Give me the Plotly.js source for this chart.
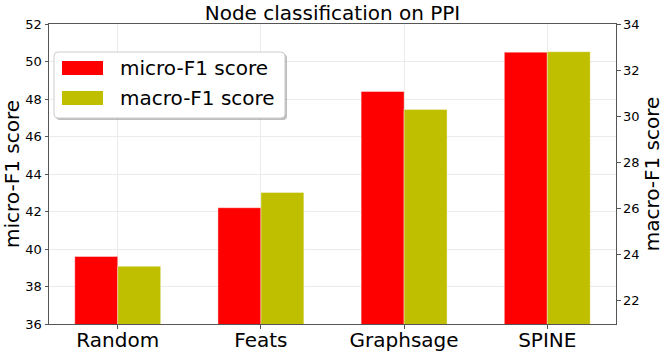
<!DOCTYPE html>
<html>
<head>
<meta charset="utf-8">
<script src="https://cdn.plot.ly/plotly-3.0.1.min.js"></script>
<style>
  html, body { margin: 0; padding: 0; background: #fff; }
  #plot { width: 665px; height: 354px; }
</style>
</head>
<body>
<div id="plot"></div>
<script>
const categories = ["Random", "Feats", "Graphsage", "SPINE"];
const microF1 = [39.6, 42.2, 48.4, 50.5];
const macroF1 = [23.5, 26.7, 30.3, 32.8];
const seriesNames = ["micro-F1 score", "macro-F1 score"];
const seriesColors = ["#ff0000", "#bfbf00"];
const microTicks = [36, 38, 40, 42, 44, 46, 48, 50, 52];
const macroTicks = [22, 24, 26, 28, 30, 32, 34];

const FONT = "DejaVu Sans, sans-serif";
const W = 665, H = 354;
const margin = { l: 49, r: 49, t: 24, b: 30 };
const plotW = W - margin.l - margin.r;
const plotH = H - margin.t - margin.b;

// pixel -> paper helpers for the hand-drawn legend
const px = (x) => (x - margin.l) / plotW;
const py = (y) => (H - margin.b - y) / plotH;

const roundedRect = (x0, y0, x1, y1, r) => {
  const a = px(x0), b = px(x1), c = py(y0), d = py(y1);
  const rx = r / plotW, ry = r / plotH;
  return `M${a + rx},${c} L${b - rx},${c} Q${b},${c} ${b},${c - ry} ` +
    `L${b},${d + ry} Q${b},${d} ${b - rx},${d} L${a + rx},${d} ` +
    `Q${a},${d} ${a},${d + ry} L${a},${c - ry} Q${a},${c} ${a + rx},${c} Z`;
};

const legendShapes = [
  {
    type: "path", xref: "paper", yref: "paper", layer: "above",
    path: roundedRect(56, 54, 287, 120, 4),
    fillcolor: "rgba(0,0,0,0.25)", line: { width: 0 },
  },
  {
    type: "path", xref: "paper", yref: "paper", layer: "above",
    path: roundedRect(54, 52, 285, 118, 4),
    fillcolor: "#ffffff", line: { color: "#cccccc", width: 1 },
  },
];
const legendRows = [68, 98];
const legendAnnotations = [];
seriesNames.forEach((name, i) => {
  const yc = legendRows[i];
  legendShapes.push({
    type: "rect", xref: "paper", yref: "paper", layer: "above",
    x0: px(62), x1: px(103), y0: py(yc - 7), y1: py(yc + 7),
    fillcolor: seriesColors[i], line: { width: 0 },
  });
  legendAnnotations.push({
    xref: "paper", yref: "paper", x: px(118), y: py(yc),
    xanchor: "left", yanchor: "middle", showarrow: false,
    text: name, font: { family: FONT, size: 20, color: "#000" },
  });
});

const traces = [
  {
    type: "bar", name: seriesNames[0], x: categories, y: microF1,
    yaxis: "y", width: 0.3, offset: -0.3,
    marker: { color: seriesColors[0], line: { color: "rgba(255,255,255,0.4)", width: 1 } },
  },
  {
    type: "bar", name: seriesNames[1], x: categories, y: macroF1,
    yaxis: "y2", width: 0.3, offset: 0,
    marker: { color: seriesColors[1], line: { color: "rgba(255,255,255,0.4)", width: 1 } },
  },
];

const axisCommon = {
  showline: true, linecolor: "#555", linewidth: 1,
  ticks: "outside", ticklen: 3.5, tickcolor: "#555", tickwidth: 1,
  gridcolor: "#ebebeb", gridwidth: 1, zeroline: false,
};

const layout = {
  width: W, height: H, margin,
  paper_bgcolor: "#fff", plot_bgcolor: "#fff",
  showlegend: false,
  font: { family: FONT, color: "#000" },
  title: {
    text: "Node classification on PPI",
    font: { family: FONT, size: 20, color: "#000" },
    x: 0.5, xref: "paper", y: 1 - 13 / H, yref: "container", yanchor: "middle",
  },
  xaxis: {
    ...axisCommon, type: "category", range: [-0.48, 3.48],
    mirror: true, showgrid: true, ticklabelstandoff: -6,
    tickfont: { family: FONT, size: 20, color: "#000" },
  },
  yaxis: {
    ...axisCommon, range: [36, 52], tickvals: microTicks, mirror: false,
    showgrid: true,
    tickfont: { family: FONT, size: 13, color: "#000" },
    title: { text: "micro-F1 score", font: { family: FONT, size: 20, color: "#000" }, standoff: 2 },
  },
  yaxis2: {
    ...axisCommon, overlaying: "y", side: "right", range: [21, 34], tickvals: macroTicks,
    showgrid: false,
    tickfont: { family: FONT, size: 13, color: "#000" },
    title: { text: "macro-F1 score", font: { family: FONT, size: 20, color: "#000" }, standoff: 2 },
  },
  shapes: legendShapes,
  annotations: legendAnnotations,
};

Plotly.newPlot("plot", traces, layout, { staticPlot: true, displayModeBar: false });
</script>
</body>
</html>
